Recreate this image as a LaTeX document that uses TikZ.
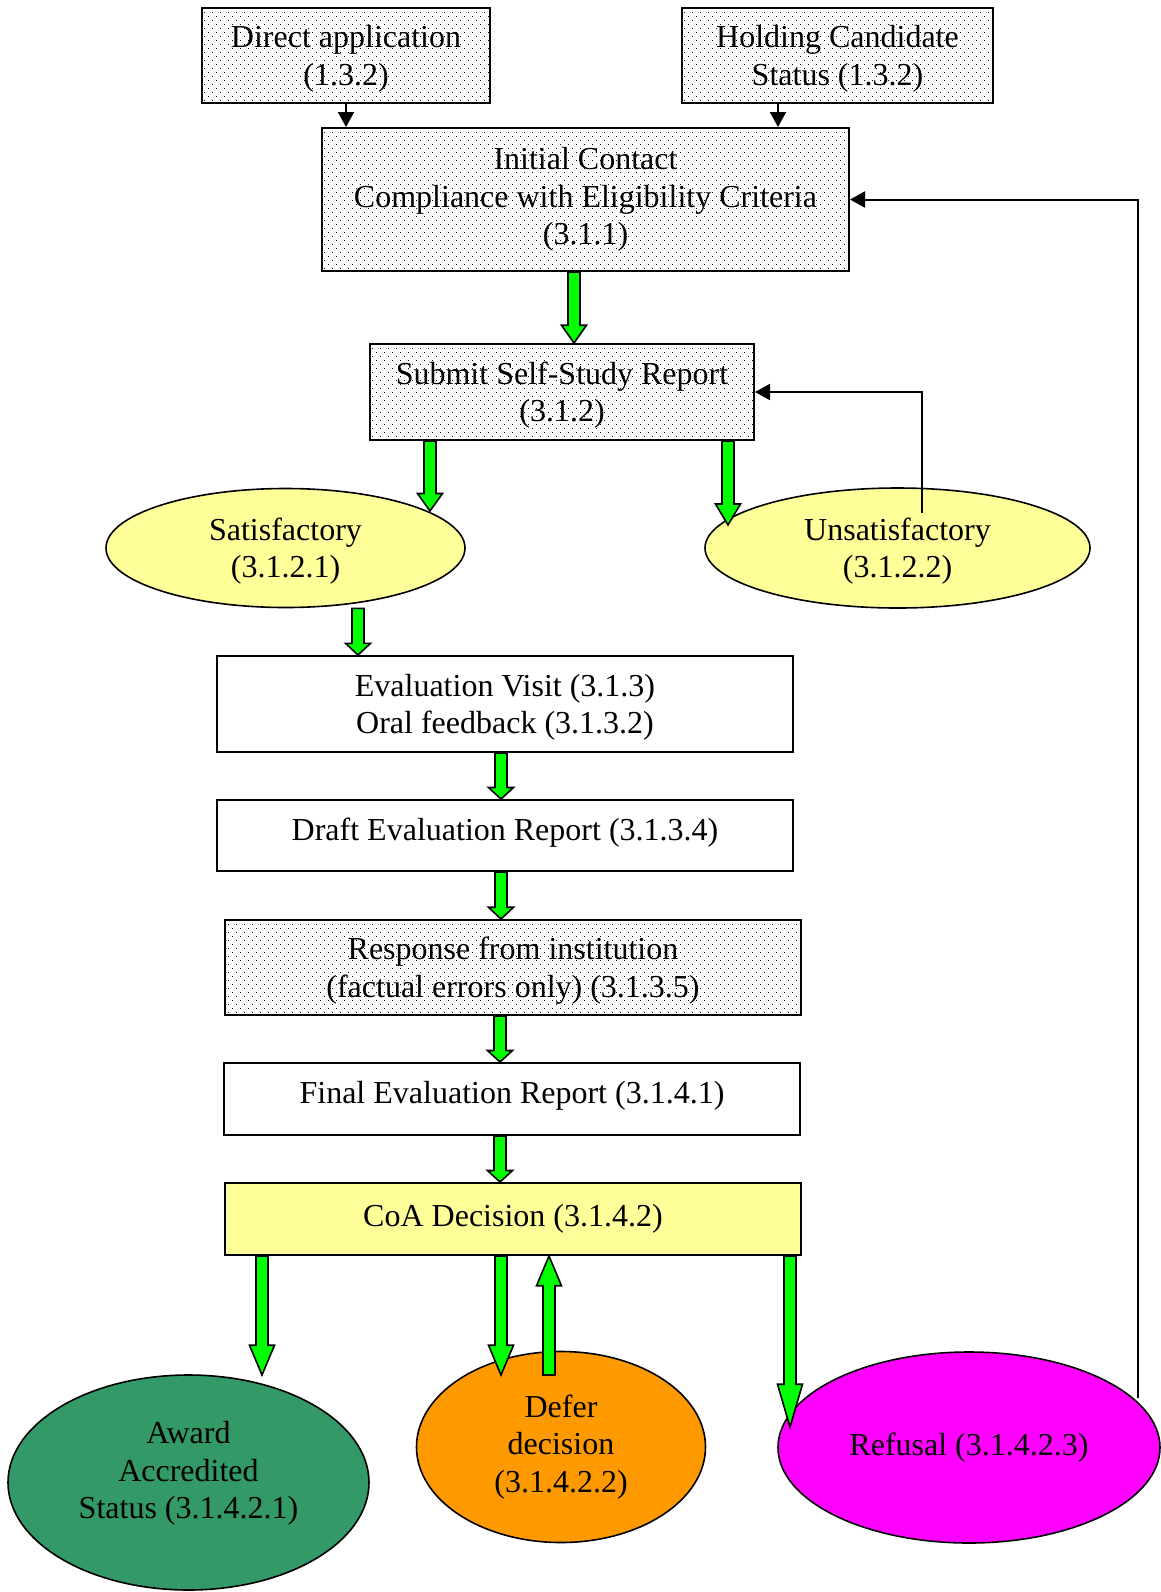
\documentclass[tikz,border=0pt]{standalone}
\usepackage{fontspec}
\setmainfont{Liberation Serif}
\usepackage{tikz}
\usetikzlibrary{positioning, shapes.geometric, calc, arrows.meta, patterns.meta}

\definecolor{paleyellow}{HTML}{FFFF99}
\definecolor{awardgreen}{HTML}{339966}
\definecolor{deferorange}{HTML}{FF9900}
\definecolor{refusalpink}{HTML}{FF00FF}
\definecolor{arrowgreen}{HTML}{00FF00}

\tikzdeclarepattern{
  name=finedots,
  bottom left={(-0.5pt,-0.5pt)},
  top right={(2.5pt,2.5pt)},
  tile size={(4pt,4pt)},
  code={\fill (-0.22pt,-0.22pt) rectangle (0.22pt,0.22pt);
        \fill (1.78pt,1.78pt) rectangle (2.22pt,2.22pt);}
}

% struts to nudge the text inside a box
\newcommand{\tstrut}{\rule{0pt}{14.3pt}}
\newcommand{\dstrut}[1]{\rule[-#1]{0pt}{0pt}}

% fat green arrow, vertical, from #1 to #2
\newcommand{\greenarrow}[2]{%
  \draw[fatarrow] let \p1 = (#1), \p2 = (#2), \p3 = ($(#2)!0.25!(#1)$) in
    (\x1-3pt,\y1) -- (\x1-3pt,\y3) -- (\x1-6.25pt,\y3) -- (\x1,\y2)
    -- (\x1+6.25pt,\y3) -- (\x1+3pt,\y3) -- (\x1+3pt,\y1) -- cycle;}

\begin{document}
\begin{tikzpicture}[x = 0.5pt, y = -0.5pt,
  every node/.style = {align = center, inner sep = 0pt,
    font = \fontsize{16}{18.8}\selectfont},
  dotbox/.style = {draw, line width = 1pt, pattern = finedots},
  plainbox/.style = {draw, line width = 1pt},
  oval/.style = {ellipse, draw, line width = 0.8pt},
  thinarrow/.style = {line width = 1pt, -{Triangle[length = 7.5pt, width = 8pt]}},
  fatarrow/.style = {draw = black, fill = arrowgreen, line width = 0.8pt}]
\useasboundingbox (0,0) rectangle (1161,1592);

\node[dotbox, minimum width = 144pt, minimum height = 47.5pt] (dapp) at (346,55.5)
  {\tstrut Direct application\\(1.3.2)};
\node[dotbox, minimum width = 155.5pt, minimum height = 47.5pt] (hold) at (837.5,55.5)
  {\tstrut Holding Candidate\\Status (1.3.2)};
\node[dotbox, minimum width = 263.5pt, minimum height = 71.5pt] (init) at (585.5,199.5)
  {Initial Contact\\Compliance with Eligibility Criteria\\(3.1.1)};
\node[dotbox, minimum width = 192pt, minimum height = 48pt] (submit) at (562,392)
  {\tstrut Submit Self-Study Report\\(3.1.2)};

\node[oval, fill = paleyellow, minimum width = 179.5pt, minimum height = 59.5pt] (sat) at (285.5,548)
  {\tstrut Satisfactory\\(3.1.2.1)};
\node[oval, fill = paleyellow, minimum width = 192.5pt, minimum height = 60pt] (unsat) at (897.5,548)
  {\tstrut Unsatisfactory\\(3.1.2.2)};

\node[plainbox, minimum width = 288pt, minimum height = 48pt] (eval) at (505,704)
  {\tstrut Evaluation Visit (3.1.3)\\Oral feedback (3.1.3.2)};
\node[plainbox, minimum width = 288pt, minimum height = 35.5pt] (draft) at (505,835.5)
  {Draft Evaluation Report (3.1.3.4)\dstrut{6.5pt}};
\node[dotbox, minimum width = 288pt, minimum height = 47.5pt] (resp) at (513,967.5)
  {\tstrut Response from institution\\(factual errors only) (3.1.3.5)};
\node[plainbox, minimum width = 288pt, minimum height = 36pt] (final) at (512,1099)
  {Final Evaluation Report (3.1.4.1)\dstrut{6.5pt}};
\node[plainbox, fill = paleyellow, minimum width = 288pt, minimum height = 36pt] (coa) at (513,1219)
  {CoA Decision (3.1.4.2)};

\node[oval, fill = awardgreen, minimum width = 180.5pt, minimum height = 107.5pt] (award) at (188.5,1482.5)
  {Award\\Accredited\\Status (3.1.4.2.1)\dstrut{12.5pt}};
\node[oval, fill = deferorange, minimum width = 144.5pt, minimum height = 95.5pt] (defer) at (561,1447)
  {Defer\\decision\\(3.1.4.2.2)};
\node[oval, fill = refusalpink, minimum width = 191pt, minimum height = 95.5pt] (refusal) at (969,1447.5)
  {Refusal (3.1.4.2.3)};

% loose ends inside the ovals
\coordinate (satin) at (430,511);
\coordinate (unsatin) at (728,525);
\coordinate (uback) at (922,513);
\coordinate (awardin) at (262,1375);
\coordinate (deferin) at (501,1375);
\coordinate (deferout) at (549,1375);
\coordinate (refusalin) at (790,1427);
\coordinate (rback) at (1138,1398);

% thin black arrows
\draw[thinarrow] (dapp.south) -- (dapp.south |- init.north);
\draw[thinarrow] ([xshift = -29.75pt]hold.south) coordinate (h1) -- (h1 |- init.north);
\draw[thinarrow] (uback) -- (uback |- submit.east) -- (submit.east);
\draw[thinarrow] (rback) -- (rback |- init.east) -- (init.east);

% green arrows
\greenarrow{init.south -| 574,0}{submit.north -| 574,0}
\greenarrow{submit.south -| satin}{satin}
\greenarrow{submit.south -| unsatin}{unsatin}
\greenarrow{sat.south -| 358,0}{eval.north -| 358,0}
\greenarrow{eval.south -| 501,0}{draft.north -| 501,0}
\greenarrow{draft.south -| 501,0}{resp.north -| 501,0}
\greenarrow{resp.south -| 500,0}{final.north -| 500,0}
\greenarrow{final.south -| 500,0}{coa.north -| 500,0}
\greenarrow{coa.south -| awardin}{awardin}
\greenarrow{coa.south -| deferin}{deferin}
\greenarrow{deferout}{coa.south -| deferout}
\greenarrow{coa.south -| refusalin}{refusalin}
\end{tikzpicture}
\end{document}
